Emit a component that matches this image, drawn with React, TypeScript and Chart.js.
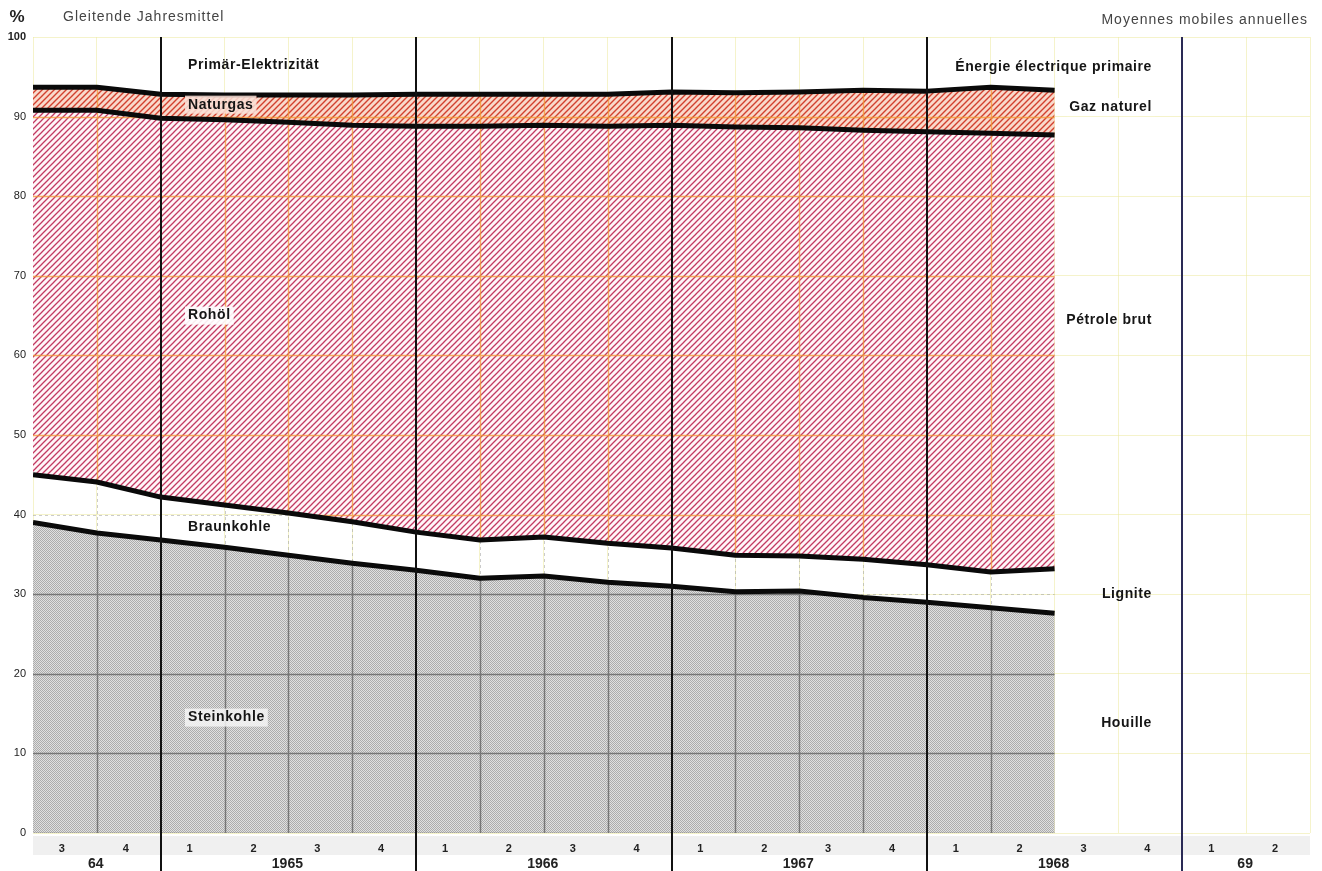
import React, { useEffect, useRef } from 'react';
import { Chart, registerables } from 'chart.js';

Chart.register(...registerables);

// x positions: quarter boundaries counted from the start of 1964 Q3
const quarterIndex = [0, 1, 2, 3, 4, 5, 6, 7, 8, 9, 10, 11, 12, 13, 14, 15, 16];
const steinkohle = [39.0, 37.7, 36.8, 35.9, 34.9, 33.9, 33.0, 32.0, 32.3, 31.5, 31.0, 30.3, 30.4, 29.6, 29.0, 28.3, 27.6];
const braunkohle = [6.0, 6.4, 5.4, 5.3, 5.3, 5.2, 4.8, 4.8, 4.9, 4.9, 4.8, 4.6, 4.4, 4.8, 4.7, 4.5, 5.6];
const rohoel = [45.8, 46.7, 47.6, 48.4, 49.1, 49.8, 51.0, 52.0, 51.7, 52.4, 53.1, 53.8, 53.8, 53.9, 54.4, 55.1, 54.5];
const naturgas = [2.9, 2.9, 3.0, 3.1, 3.4, 3.8, 4.0, 4.0, 3.9, 4.0, 4.2, 4.3, 4.5, 5.0, 5.1, 5.8, 5.6];
const primaerElektrizitaet = [6.3, 6.3, 7.2, 7.3, 7.3, 7.3, 7.2, 7.2, 7.2, 7.2, 6.9, 7.0, 6.9, 6.7, 6.8, 6.3, 6.7];

const quarterLabels = ['3', '4', '1', '2', '3', '4', '1', '2', '3', '4', '1', '2', '3', '4', '1', '2', '3', '4', '1', '2'];
const yearLabels = ['64', '1965', '1966', '1967', '1968', '69'];
const yearBoundaries = [0, 2, 6, 10, 14, 18, 20];
const yTicks = [0, 10, 20, 30, 40, 50, 60, 70, 80, 90, 100];

const FONT = '"Liberation Sans", Arial, Helvetica, sans-serif';

function hatch(bg: string | null, fg: string, size: number, lw: number) {
  const c = document.createElement('canvas');
  c.width = size;
  c.height = size;
  const g = c.getContext('2d')!;
  if (bg) {
    g.fillStyle = bg;
    g.fillRect(0, 0, size, size);
  }
  g.strokeStyle = fg;
  g.lineWidth = lw;
  g.beginPath();
  g.moveTo(-1, size + 1);
  g.lineTo(size + 1, -1);
  g.moveTo(-size / 2 - 1, size / 2 + 1);
  g.lineTo(size / 2 + 1, -size / 2 - 1);
  g.moveTo(size / 2 - 1, size * 1.5 + 1);
  g.lineTo(size * 1.5 + 1, size / 2 - 1);
  g.stroke();
  return g.createPattern(c, 'repeat')!;
}

function stipple(light: string, dark: string) {
  const c = document.createElement('canvas');
  c.width = 4;
  c.height = 4;
  const g = c.getContext('2d')!;
  g.fillStyle = light;
  g.fillRect(0, 0, 4, 4);
  g.fillStyle = dark;
  for (let y = 0; y < 4; y++) {
    for (let x = 0; x < 4; x++) {
      if ((x + y) % 2 === 0) g.fillRect(x, y, 1, 1);
    }
  }
  return g.createPattern(c, 'repeat')!;
}

export default function App() {
  const ref = useRef<HTMLCanvasElement | null>(null);

  useEffect(() => {
    const canvas = ref.current!;
    const toPts = (arr: number[]) => arr.map((v, i) => ({ x: quarterIndex[i], y: v }));

    const regionPath = (chart: any, upper: number, lower: number | null) => {
      const ctx = chart.ctx;
      const up = chart.getDatasetMeta(upper).data;
      ctx.beginPath();
      up.forEach((p: any, i: number) => (i === 0 ? ctx.moveTo(p.x, p.y) : ctx.lineTo(p.x, p.y)));
      if (lower === null) {
        const yb = chart.scales.y.getPixelForValue(0);
        ctx.lineTo(up[up.length - 1].x, yb);
        ctx.lineTo(up[0].x, yb);
      } else {
        const lo = chart.getDatasetMeta(lower).data;
        for (let i = lo.length - 1; i >= 0; i--) ctx.lineTo(lo[i].x, lo[i].y);
      }
      ctx.closePath();
    };

    const drawGrid = (chart: any, color: string, width: number, dash: number[]) => {
      const ctx = chart.ctx;
      const { left, right, top, bottom } = chart.chartArea;
      const xs = chart.scales.x;
      const ys = chart.scales.y;
      ctx.strokeStyle = color;
      ctx.lineWidth = width;
      ctx.setLineDash(dash);
      ctx.beginPath();
      yTicks.forEach((v) => {
        const y = Math.round(ys.getPixelForValue(v)) + 0.5;
        ctx.moveTo(left, y);
        ctx.lineTo(right, y);
      });
      for (let q = 0; q <= 20; q++) {
        if (yearBoundaries.includes(q)) continue;
        const x = Math.round(xs.getPixelForValue(q)) + 0.5;
        ctx.moveTo(x, top);
        ctx.lineTo(x, bottom);
      }
      ctx.stroke();
      ctx.setLineDash([]);
    };

    const gridPlugin = {
      id: 'regionGrid',
      beforeDraw(chart: any) {
        const ctx = chart.ctx;
        const xs = chart.scales.x;
        ctx.save();
        ctx.fillStyle = '#f0f0f0';
        const x0 = xs.getPixelForValue(0);
        const x1 = xs.getPixelForValue(20);
        ctx.fillRect(x0, 836, x1 - x0, 19);
        ctx.restore();
      },
      beforeDatasetsDraw(chart: any) {
        const ctx = chart.ctx;
        ctx.save();
        regionPath(chart, 0, null);
        ctx.clip();
        drawGrid(chart, 'rgba(85,85,85,0.7)', 1.5, []);
        ctx.restore();
        ctx.save();
        regionPath(chart, 1, 0);
        ctx.clip();
        drawGrid(chart, 'rgba(160,160,160,0.55)', 1, [3, 3]);
        ctx.restore();
        ctx.save();
        regionPath(chart, 3, 1);
        ctx.clip();
        drawGrid(chart, 'rgba(242,150,50,0.75)', 1.4, []);
        ctx.restore();
      },
      afterDatasetsDraw(chart: any) {
        const ctx = chart.ctx;
        const xs = chart.scales.x;
        const top = chart.chartArea.top;
        ctx.save();
        yearBoundaries.slice(1, -1).forEach((q, i, a) => {
          const x = Math.round(xs.getPixelForValue(q));
          ctx.strokeStyle = i === a.length - 1 ? '#2a2a55' : '#111';
          ctx.lineWidth = 2;
          ctx.beginPath();
          ctx.moveTo(x, top);
          ctx.lineTo(x, chart.height);
          ctx.stroke();
        });
        ctx.restore();
      },
      afterDraw(chart: any) {
        const ctx = chart.ctx;
        const xs = chart.scales.x;
        const ys = chart.scales.y;
        ctx.save();
        ctx.textBaseline = 'middle';
        ctx.fillStyle = '#444';
        ctx.font = `14px ${FONT}`;
        (ctx as any).letterSpacing = '1px';
        ctx.textAlign = 'left';
        ctx.fillText('Gleitende Jahresmittel', 63, 17);
        ctx.textAlign = 'right';
        ctx.fillText('Moyennes mobiles annuelles', 1308, 20);
        (ctx as any).letterSpacing = '0px';
        ctx.fillStyle = '#222';
        ctx.font = `bold 17px ${FONT}`;
        ctx.textAlign = 'center';
        ctx.fillText('%', 17, 17);

        ctx.font = `bold 11px ${FONT}`;
        ctx.fillStyle = '#222';
        quarterLabels.forEach((lab, i) => {
          ctx.fillText(lab, xs.getPixelForValue(i + 0.5) - 3, 849);
        });
        ctx.font = `bold 14px ${FONT}`;
        yearLabels.forEach((lab, i) => {
          const c = (yearBoundaries[i] + yearBoundaries[i + 1]) / 2;
          ctx.fillText(lab, xs.getPixelForValue(c) - 1, 864);
        });

        ctx.font = `bold 14px ${FONT}`;
        (ctx as any).letterSpacing = '0.6px';
        const label = (t: string, x: number, v: number, align: CanvasTextAlign, box: string | null) => {
          const y = ys.getPixelForValue(v);
          ctx.textAlign = align;
          if (box) {
            const w = ctx.measureText(t).width;
            const bx = align === 'right' ? x - w - 3 : x - 3;
            ctx.fillStyle = box;
            ctx.fillRect(bx, y - 9, w + 6, 18);
          }
          ctx.fillStyle = '#151515';
          ctx.fillText(t, x, y);
        };
        const lx = 188;
        const rx = 1152;
        label('Primär-Elektrizität', lx, 96.5, 'left', null);
        label('Naturgas', lx, 91.5, 'left', 'rgba(250,225,215,0.85)');
        label('Rohöl', lx, 65, 'left', 'rgba(255,255,255,0.9)');
        label('Braunkohle', lx, 38.4, 'left', null);
        label('Steinkohle', lx, 14.5, 'left', 'rgba(245,245,245,0.85)');
        label('Énergie électrique primaire', rx, 96.2, 'right', null);
        label('Gaz naturel', rx, 91.2, 'right', 'rgba(255,255,255,0.9)');
        label('Pétrole brut', rx, 64.4, 'right', null);
        label('Lignite', rx, 30.0, 'right', null);
        label('Houille', rx, 13.8, 'right', null);
        ctx.restore();
      },
    };

    const lineStyle = {
      borderColor: '#0a0a0a',
      borderWidth: 5,
      borderJoinStyle: 'round' as const,
      borderCapStyle: 'butt' as const,
      pointRadius: 0,
      tension: 0,
    };

    const faint = 'rgba(236,234,160,0.55)';

    const chart = new Chart(canvas, {
      type: 'line',
      data: {
        datasets: [
          { label: 'Steinkohle', data: toPts(steinkohle), fill: 'origin', backgroundColor: stipple('#e0e0e0', '#acacac'), ...lineStyle },
          { label: 'Braunkohle', data: toPts(braunkohle), fill: false, backgroundColor: 'transparent', ...lineStyle },
          { label: 'Rohöl', data: toPts(rohoel), fill: '-1', backgroundColor: hatch('#fff6f8', '#c23a62', 6, 1.3), ...lineStyle },
          { label: 'Naturgas', data: toPts(naturgas), fill: '-1', backgroundColor: hatch('#f9d9cb', '#d2402e', 6, 1.4), ...lineStyle },
          { label: 'Primär-Elektrizität', data: toPts(primaerElektrizitaet), fill: false, backgroundColor: 'transparent', ...lineStyle, borderWidth: 0 },
        ],
      },
      options: {
        responsive: false,
        animation: false,
        devicePixelRatio: 1,
        layout: { padding: { left: 0, right: 12, top: 37, bottom: 38 } },
        plugins: {
          legend: { display: false },
          tooltip: { enabled: false },
          filler: { drawTime: 'beforeDatasetsDraw' } as any,
        },
        scales: {
          x: {
            type: 'linear',
            min: 0,
            max: 20,
            ticks: { display: false, stepSize: 1 },
            border: { display: false },
            grid: { color: faint, drawTicks: false, lineWidth: 1 },
            afterFit: (s: any) => {
              s.height = 0;
            },
          },
          y: {
            stacked: true,
            min: 0,
            max: 100,
            afterBuildTicks: (s: any) => {
              s.ticks = yTicks.map((v) => ({ value: v }));
            },
            ticks: {
              padding: 7,
              color: '#222',
              font: (c: any) => ({ family: FONT, size: 11, weight: c.tick && c.tick.value === 100 ? 'bold' : 'normal' }),
            },
            border: { display: false },
            grid: { color: faint, drawTicks: false, lineWidth: 1 },
            afterFit: (s: any) => {
              s.width = 33;
            },
          },
        },
      },
      plugins: [gridPlugin],
    });
    return () => chart.destroy();
  }, []);

  return (
    <div style={{ position: 'fixed', left: 0, top: 0, width: 1322, height: 871, background: '#fff' }}>
      <canvas ref={ref} width={1322} height={871} style={{ display: 'block', width: 1322, height: 871 }} />
    </div>
  );
}
